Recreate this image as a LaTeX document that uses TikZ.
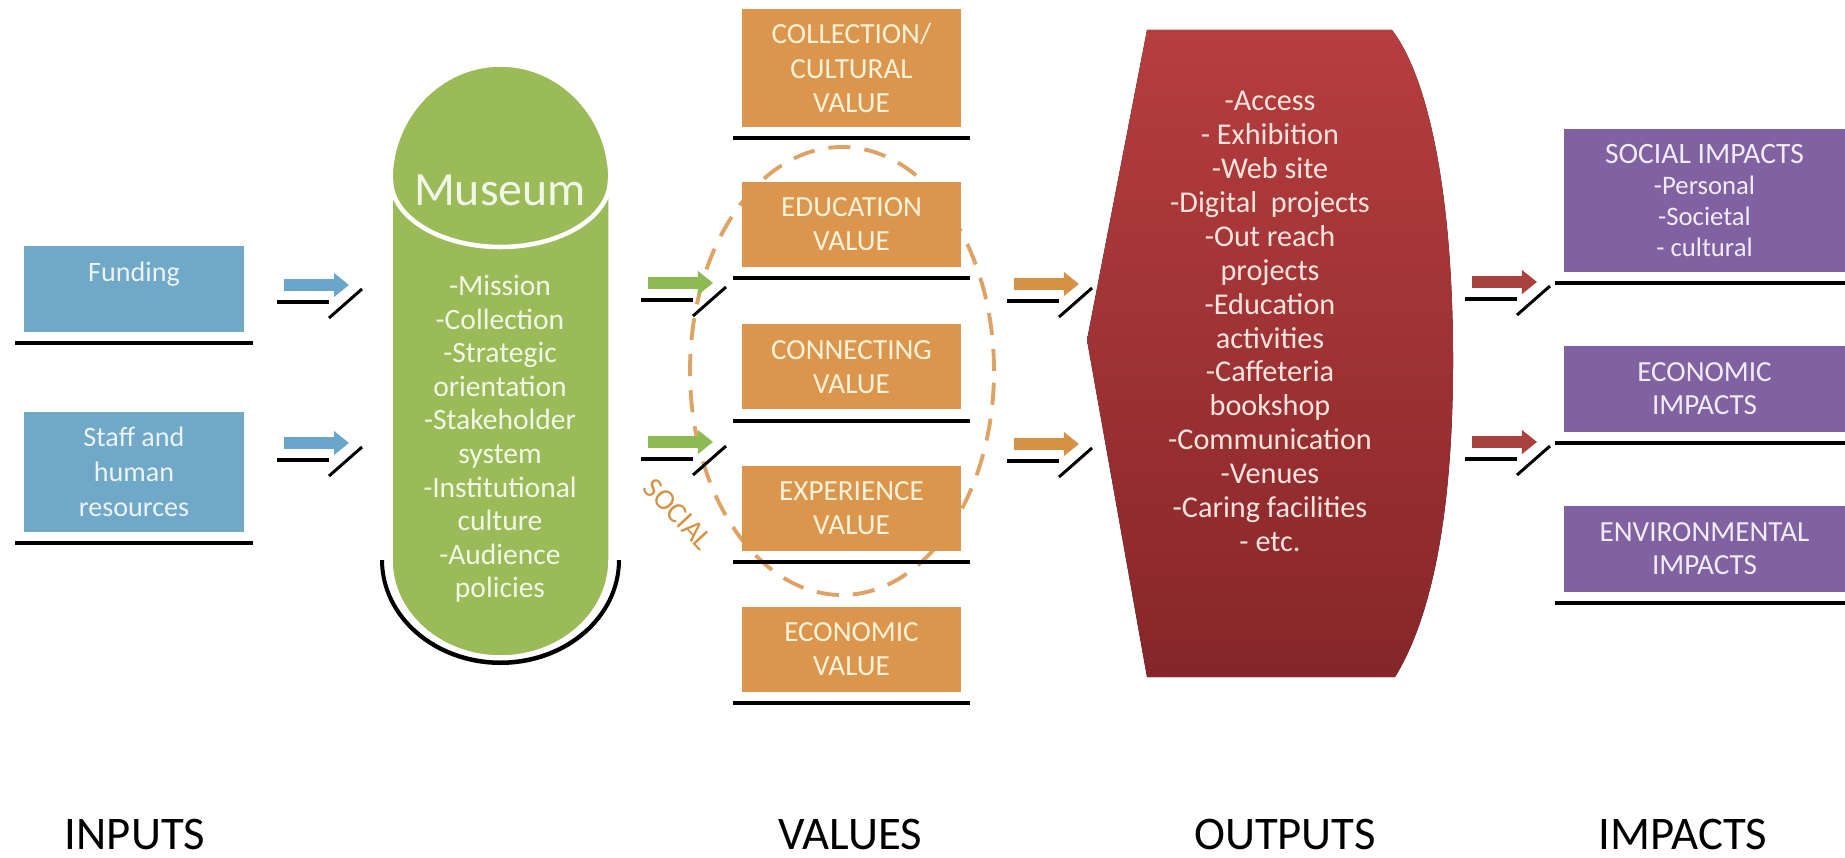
\documentclass[tikz,border=0pt]{standalone}
\usepackage{fontspec}
\setmainfont{Carlito}
\usepackage{tikz}
\usetikzlibrary{arrows.meta,positioning,calc}
\definecolor{inblue}{RGB}{112,168,200}
\definecolor{intext}{RGB}{236,244,250}
\definecolor{musegreen}{RGB}{155,187,89}
\definecolor{musetext}{RGB}{242,248,232}
\definecolor{valorange}{RGB}{219,149,77}
\definecolor{valtext}{RGB}{255,243,218}
\definecolor{ringorange}{RGB}{222,163,100}
\definecolor{outtop}{RGB}{182,62,62}
\definecolor{outbottom}{RGB}{134,38,42}
\definecolor{outtext}{RGB}{250,228,222}
\definecolor{imppurple}{RGB}{128,97,161}
\definecolor{imptext}{RGB}{242,236,248}
\definecolor{arrblue}{RGB}{104,166,204}
\definecolor{arrgreen}{RGB}{142,186,84}
\definecolor{arrorange}{RGB}{214,146,68}
\definecolor{arrred}{RGB}{168,66,62}

\begin{document}
\begin{tikzpicture}[
    inbox/.style={fill=inblue,text=intext,minimum width=22mm,inner sep=0pt,
      align=center,font=\fontsize{8}{10}\selectfont},
    valbox/.style={fill=valorange,text=valtext,minimum width=21.9mm,
      minimum height=8.5mm,inner sep=0pt,align=center,
      font=\fontsize{8.3}{9.7}\selectfont},
    impbox/.style={fill=imppurple,text=imptext,minimum width=28.1mm,
      minimum height=8.6mm,inner sep=0pt,align=center,
      font=\fontsize{8.3}{9.4}\selectfont},
    shelf/.style={line width=1.15pt,draw=black},
    flow/.style={-{Triangle[length=4.3pt,width=6.6pt]},line width=3.4pt,draw=#1},
    stub/.style={line width=1pt,draw=black},
    slash/.style={line width=0.85pt,draw=black},
    ring/.style={draw=ringorange,line width=1.1pt,dash pattern=on 6.3pt off 4pt},
    colhead/.style={font=\fontsize{13.3}{15}\selectfont,inner sep=0pt},
  ]

  \useasboundingbox (0,0) rectangle (18.45,8.57);

  % inputs
  \node[inbox,minimum height=8.6mm,text depth=3.4mm] (fund) at (1.34,5.68) {Funding};
  \node[inbox,minimum height=12mm] (staff) at (1.34,3.85) {Staff and\\human\\resources};

  % museum cylinder, with its dark rim underneath
  \fill (3.80,2.97)
    arc[start angle=180,end angle=360,x radius=1.205,y radius=1.05]
    -- (6.17,2.97)
    arc[start angle=0,end angle=-180,x radius=1.165,y radius=1.005] -- cycle;
  \filldraw[draw=white,line width=1pt,fill=musegreen] (3.91,6.77) -- (3.91,2.97)
    arc[start angle=180,end angle=360,x radius=1.095,y radius=0.97]
    -- (6.10,6.77)
    arc[start angle=0,end angle=180,x radius=1.095,y radius=1.15] -- cycle;
  \draw[white,line width=1.3pt] (3.91,6.77)
    arc[start angle=180,end angle=360,x radius=1.095,y radius=0.67];
  \node[font=\fontsize{13.6}{15}\selectfont,text=musetext,inner sep=0pt] (museum)
    at (5.00,6.67) {Museum};
  \node[font=\fontsize{8.4}{9.55}\selectfont,text=musetext,
        align=center,inner sep=0pt] (museumlist) at (5.00,4.18)
    {-Mission\\-Collection\\-Strategic\\orientation\\-Stakeholder\\system\\
     -Institutional\\culture\\-Audience\\policies};

  % values
  \draw[ring] (8.42,4.86) ellipse[x radius=1.52,y radius=2.24];
  \node[valbox,minimum height=11.8mm] (vcoll) at (8.515,7.89) {COLLECTION/\\CULTURAL\\VALUE};
  \node[valbox] (vedu) at (8.515,6.325) {EDUCATION\\VALUE};
  \node[valbox] (vconn) at (8.515,4.90) {CONNECTING\\VALUE};
  \node[valbox] (vexp) at (8.515,3.485) {EXPERIENCE\\VALUE};
  \node[valbox] (veco) at (8.515,2.075) {ECONOMIC\\VALUE};
  \node[font=\fontsize{8.4}{9}\selectfont,text=arrorange,rotate=-47,inner sep=0pt]
    (socialtag) at (6.78,3.43) {SOCIAL};

  % outputs
  \fill[top color=outtop,bottom color=outbottom] (11.47,8.27) -- (13.92,8.27)
    .. controls (14.30,7.77) and (14.53,6.57) .. (14.53,4.97)
    .. controls (14.53,3.37) and (14.30,2.37) .. (13.95,1.80)
    -- (11.47,1.80) -- (10.87,5.17) -- cycle;
  \node[font=\fontsize{8.6}{9.65}\selectfont,text=outtext,align=center,inner sep=0pt]
    (outlist) at (12.70,5.355)
    {-Access\\- Exhibition\\-Web site\\-Digital~~projects\\-Out reach\\projects\\
     -Education\\activities\\-Caffeteria\\bookshop\\-Communication\\-Venues\\
     -Caring facilities\\- etc.};

  % impacts
  \node[impbox,minimum height=14.3mm,font=\fontsize{7.6}{8.8}\selectfont] (isoc)
    at (17.045,6.565)
    {{\fontsize{8.4}{8.8}\selectfont SOCIAL IMPACTS}\\-Personal\\-Societal\\- cultural};
  \node[impbox] (ieco) at (17.045,4.68) {ECONOMIC\\IMPACTS};
  \node[impbox] (ienv) at (17.045,3.085) {ENVIRONMENTAL\\IMPACTS};

  % shelves under every box
  \foreach \b in {fund,staff,vcoll,vedu,vconn,vexp,veco,isoc,ieco,ienv}
    \draw[shelf] ([xshift=-0.85mm,yshift=-1.05mm]\b.south west)
      -- ([xshift=0.85mm,yshift=-1.05mm]\b.south east);

  % flow marks between the columns
  \foreach \name/\x/\y/\col in {in1/2.77/5.72/arrblue, in2/2.77/4.14/arrblue,
                               va1/6.41/5.74/arrgreen, va2/6.41/4.15/arrgreen,
                               ou1/10.07/5.73/arrorange, ou2/10.07/4.13/arrorange,
                               im1/14.65/5.75/arrred, im2/14.65/4.15/arrred} {
    \coordinate (\name) at (\x,\y);
    \draw[flow=\col] ($(\name)+(0.07,0)$) -- ($(\name)+(0.72,0)$);
    \draw[stub] ($(\name)+(0,-0.17)$) -- ($(\name)+(0.52,-0.17)$);
    \draw[slash] ($(\name)+(0.52,-0.33)$) -- ($(\name)+(0.85,-0.04)$);
  }

  % column headings
  \node[colhead] (hin) at (1.35,0.23) {INPUTS};
  \node[colhead] (hval) at (8.50,0.23) {VALUES};
  \node[colhead] (hout) at (12.85,0.23) {OUTPUTS};
  \node[colhead] (himp) at (16.83,0.23) {IMPACTS};

\end{tikzpicture}
\end{document}
